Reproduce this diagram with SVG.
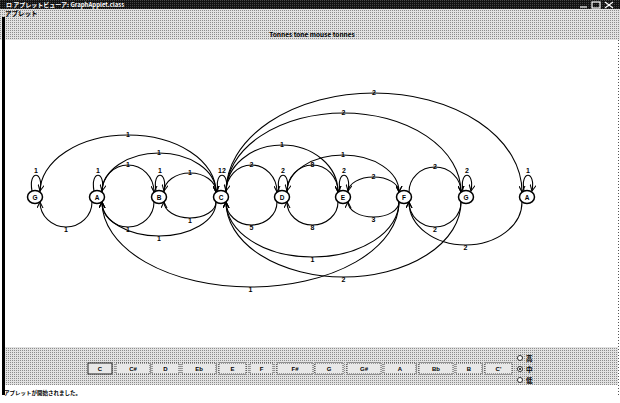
<svg xmlns="http://www.w3.org/2000/svg" width="620" height="403" viewBox="0 0 620 403">
<defs>
<pattern id="dither" width="2" height="2" patternUnits="userSpaceOnUse">
<rect width="2" height="2" fill="#e2e2e2"/>
<rect width="1" height="1" fill="#8c8c8c"/>
</pattern>
<pattern id="darkdither" width="2" height="2" patternUnits="userSpaceOnUse">
<rect width="2" height="2" fill="#111"/>
<rect width="1" height="1" fill="#444"/>
</pattern>
<marker id="arr" viewBox="0 0 8 8" refX="7" refY="4" markerWidth="7" markerHeight="7" markerUnits="userSpaceOnUse" orient="auto">
<path d="M0,0.5 L7,4 L0,7.5" fill="none" stroke="#000" stroke-width="1.2"/>
</marker>
<style>
.ui{font-family:"Noto Sans CJK JP","Liberation Sans",sans-serif;font-weight:bold;fill:#000}
.node ellipse{fill:#fff;stroke:#000;stroke-width:1.5}
.node text{font-family:"Liberation Sans",sans-serif;font-weight:bold;font-size:6.5px;text-anchor:middle;fill:#000}
.edge{fill:none;stroke:#000;stroke-width:1.1;marker-end:url(#arr)}
.lbl{font-family:"Liberation Sans",sans-serif;font-weight:bold;font-size:7px;text-anchor:middle;fill:#000}
.btn rect{fill:#e8e8e8;stroke:#222;stroke-width:0.8;stroke-dasharray:1 1}
.btn text{font-family:"Liberation Sans",sans-serif;font-weight:bold;font-size:6px;text-anchor:middle;fill:#000}
</style>
</defs>

<!-- window chrome -->
<rect x="0" y="0" width="620" height="403" fill="#fff"/>
<rect x="0" y="0" width="620" height="9" fill="url(#darkdither)"/>
<text x="6" y="7" class="ui" font-size="6" style="fill:#fff">ロ アプレットビューア: GraphApplet.class</text>
<g fill="none" stroke="#fff" stroke-width="1.2">
<line x1="580" y1="7" x2="587" y2="7"/>
<rect x="592" y="2" width="8" height="6"/>
<line x1="605" y1="2" x2="613" y2="8"/>
<line x1="613" y1="2" x2="605" y2="8"/>
</g>
<rect x="0" y="9" width="620" height="31" fill="url(#dither)"/>
<text x="5" y="16" class="ui" font-size="6.5">アプレット</text>
<text x="312" y="37" class="ui" font-size="6.5" text-anchor="middle" font-family="Liberation Sans,sans-serif">Tonnes tone mouse tonnes</text>
<rect x="2" y="17" width="3" height="378" fill="#000"/>
<line x1="618.5" y1="40" x2="618.5" y2="395" stroke="#555" stroke-width="1" stroke-dasharray="1 2"/>

<!-- bottom panel -->
<rect x="5" y="347" width="613" height="38" fill="url(#dither)"/>
<g id="buttons">
<g class="btn"><rect x="88" y="363" width="24" height="11" style="stroke-dasharray:none;stroke-width:1"/><text x="100" y="371">C</text></g>
<g class="btn"><rect x="116" y="363" width="34" height="11"/><text x="133" y="371">C#</text></g>
<g class="btn"><rect x="152" y="363" width="27" height="11"/><text x="165.5" y="371">D</text></g>
<g class="btn"><rect x="182" y="363" width="34" height="11"/><text x="199" y="371">Eb</text></g>
<g class="btn"><rect x="219" y="363" width="27" height="11"/><text x="232.5" y="371">E</text></g>
<g class="btn"><rect x="250" y="363" width="23" height="11"/><text x="261.5" y="371">F</text></g>
<g class="btn"><rect x="277" y="363" width="36" height="11"/><text x="295" y="371">F#</text></g>
<g class="btn"><rect x="315" y="363" width="28" height="11"/><text x="329" y="371">G</text></g>
<g class="btn"><rect x="347" y="363" width="34" height="11"/><text x="364" y="371">G#</text></g>
<g class="btn"><rect x="384" y="363" width="32" height="11"/><text x="400" y="371">A</text></g>
<g class="btn"><rect x="419" y="363" width="34" height="11"/><text x="436" y="371">Bb</text></g>
<g class="btn"><rect x="456" y="363" width="26" height="11"/><text x="469" y="371">B</text></g>
<g class="btn"><rect x="485" y="363" width="27" height="11"/><text x="498.5" y="371">C'</text></g>
</g>
<g id="radios">
<circle cx="520" cy="358" r="2.5" fill="#fff" stroke="#000" stroke-width="0.8"/>
<text x="526" y="361" class="ui" font-size="6.5">高</text>
<circle cx="520" cy="369" r="2.5" fill="#fff" stroke="#000" stroke-width="0.8"/>
<circle cx="520" cy="369" r="1" fill="#000"/>
<text x="526" y="372" class="ui" font-size="6.5">中</text>
<circle cx="520" cy="380" r="2.5" fill="#fff" stroke="#000" stroke-width="0.8"/>
<text x="526" y="383" class="ui" font-size="6.5">低</text>
</g>
<text x="4" y="395" class="ui" font-size="5.5">アプレットが開始されました。</text>

<!-- connectors -->
<g id="connectors">
<!-- upper arcs (left to right) -->
<path class="edge" d="M40,192 A88,57 0 0 1 216,192"/>
<path class="edge" d="M102,192 A57,39 0 0 1 216,192"/>
<path class="edge" d="M102,192 A26,27 0 0 1 154,192"/>
<path class="edge" d="M164,192 A26,19 0 0 1 216,192"/>
<path class="edge" d="M226,192 A25.5,27 0 0 1 277,192"/>
<path class="edge" d="M287,192 A25.5,27 0 0 1 338,192"/>
<path class="edge" d="M226,192 A56,47 0 0 1 338,192"/>
<path class="edge" d="M287,192 A56,37 0 0 1 399,192"/>
<path class="edge" d="M348,192 A25.5,15 0 0 1 399,192"/>
<path class="edge" d="M409,192 A26,25 0 0 1 461,192"/>
<path class="edge" d="M226,192 A117.5,79 0 0 1 461,192"/>
<path class="edge" d="M226,192 A148,99 0 0 1 522,192"/>
<!-- lower arcs (right to left) -->
<path class="edge" d="M92,202 A26,25 0 0 1 40,202"/>
<path class="edge" d="M154,202 A26,25 0 0 1 102,202"/>
<path class="edge" d="M216,202 A26,16 0 0 1 164,202"/>
<path class="edge" d="M216,202 A57,34 0 0 1 102,202"/>
<path class="edge" d="M277,202 A25.5,23 0 0 1 226,202"/>
<path class="edge" d="M338,202 A25.5,23 0 0 1 287,202"/>
<path class="edge" d="M399,202 A25.5,15 0 0 1 348,202"/>
<path class="edge" d="M461,202 A26,25 0 0 1 409,202"/>
<path class="edge" d="M522,202 A56.5,43 0 0 1 409,202"/>
<path class="edge" d="M399,202 A86.5,55 0 0 1 226,202"/>
<path class="edge" d="M461,202 A117.5,75 0 0 1 226,202"/>
<path class="edge" d="M399,202 A148.5,85 0 0 1 102,202"/>
<!-- self loops -->
<path class="edge" d="M32,191 C28,170 44,170 40,191"/>
<path class="edge" d="M94,191 C90,170 106,170 102,191"/>
<path class="edge" d="M156,191 C152,170 168,170 164,191"/>
<path class="edge" d="M218,191 C214,170 230,170 226,191"/>
<path class="edge" d="M279,191 C275,170 291,170 287,191"/>
<path class="edge" d="M340,191 C336,170 352,170 348,191"/>
<path class="edge" d="M463,191 C459,170 475,170 471,191"/>
<path class="edge" d="M524,191 C520,170 536,170 532,191"/>
<!-- labels -->
<text class="lbl" x="128" y="137">1</text>
<text class="lbl" x="159" y="155">1</text>
<text class="lbl" x="128" y="167">1</text>
<text class="lbl" x="190" y="175">1</text>
<text class="lbl" x="251.5" y="167">2</text>
<text class="lbl" x="312.5" y="167">8</text>
<text class="lbl" x="282" y="147">1</text>
<text class="lbl" x="343" y="157">1</text>
<text class="lbl" x="373.5" y="179">2</text>
<text class="lbl" x="435" y="169">2</text>
<text class="lbl" x="343.5" y="115">2</text>
<text class="lbl" x="374" y="95">2</text>
<text class="lbl" x="66" y="232">1</text>
<text class="lbl" x="128" y="232">1</text>
<text class="lbl" x="190" y="223">1</text>
<text class="lbl" x="159" y="241">1</text>
<text class="lbl" x="251.5" y="230">5</text>
<text class="lbl" x="312.5" y="230">8</text>
<text class="lbl" x="373.5" y="222">3</text>
<text class="lbl" x="435" y="232">2</text>
<text class="lbl" x="465.5" y="250">2</text>
<text class="lbl" x="312.5" y="262">1</text>
<text class="lbl" x="343.5" y="282">2</text>
<text class="lbl" x="250.5" y="292">1</text>
<text class="lbl" x="36" y="173">1</text>
<text class="lbl" x="98" y="173">1</text>
<text class="lbl" x="160" y="173">1</text>
<text class="lbl" x="222" y="173">12</text>
<text class="lbl" x="283" y="173">2</text>
<text class="lbl" x="344" y="173">2</text>
<text class="lbl" x="467" y="173">2</text>
<text class="lbl" x="528" y="173">1</text>
</g>

<!-- nodes -->
<g id="node-G1" class="node"><ellipse cx="35" cy="197" rx="7.5" ry="6.5"/><text x="35" y="199.5">G</text></g>
<g id="node-A1" class="node"><ellipse cx="97" cy="197" rx="7.5" ry="6.5"/><text x="97" y="199.5">A</text></g>
<g id="node-B" class="node"><ellipse cx="159" cy="197" rx="7.5" ry="6.5"/><text x="159" y="199.5">B</text></g>
<g id="node-C" class="node"><ellipse cx="221" cy="197" rx="7.5" ry="6.5"/><text x="221" y="199.5">C</text></g>
<g id="node-D" class="node"><ellipse cx="282" cy="197" rx="7.5" ry="6.5"/><text x="282" y="199.5">D</text></g>
<g id="node-E" class="node"><ellipse cx="343" cy="197" rx="7.5" ry="6.5"/><text x="343" y="199.5">E</text></g>
<g id="node-F" class="node"><ellipse cx="404" cy="197" rx="7.5" ry="6.5"/><text x="404" y="199.5">F</text></g>
<g id="node-G2" class="node"><ellipse cx="466" cy="197" rx="7.5" ry="6.5"/><text x="466" y="199.5">G</text></g>
<g id="node-A2" class="node"><ellipse cx="527" cy="197" rx="7.5" ry="6.5"/><text x="527" y="199.5">A</text></g>
</svg>
